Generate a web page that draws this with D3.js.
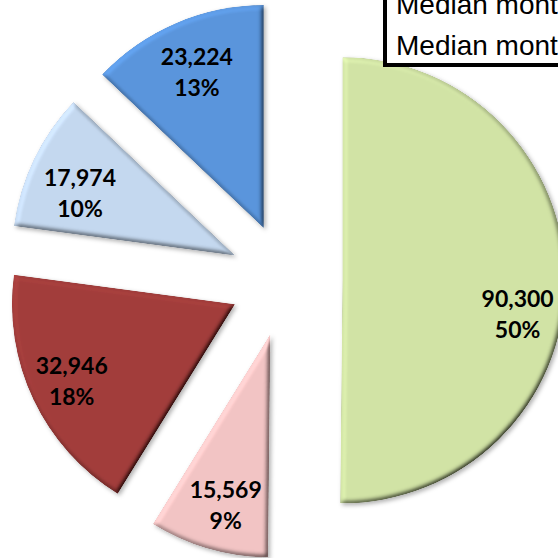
<!DOCTYPE html>
<html>
<head>
<meta charset="utf-8">
<script src="https://cdn.jsdelivr.net/npm/d3@7"></script>
<style>
  html, body { margin: 0; padding: 0; background: #fff; overflow: hidden; }
</style>
</head>
<body>
<div id="chart"></div>
<script>
// 数据
const sliceValues = [90300, 15569, 32946, 17974, 23224]
const sliceColors = ['#d1e3a5', '#f2c4c4', '#a23d3b', '#c4d8ef', '#5a95dc']
const legendLines = ['Median monthly income', 'Median monthly rent']

let width = 558
let height = 558
let radius = 223
let explode = 56.5
let cx = 286
let cy = 280

// 标签在原图里的微调 (角度偏移 度, 半径比例)
let labelAngle = [10.7, -1.5, 0, -3.6, 0]
let labelRadius = [0.80, 0.79, 0.81, 0.75, 0.76]

let svg = d3.select('#chart').append('svg').attr('width', width).attr('height', height)

// 斜面效果 + 阴影
let defs = svg.append('defs')
let f = defs.append('filter').attr('id', 'bevel').attr('x', '-10%').attr('y', '-10%').attr('width', '120%').attr('height', '120%')
f.append('feGaussianBlur').attr('in', 'SourceAlpha').attr('stdDeviation', 2.5).attr('result', 'blur')
f.append('feDiffuseLighting').attr('in', 'blur').attr('surfaceScale', 4).attr('diffuseConstant', 1)
  .attr('lighting-color', '#fff').attr('result', 'diff')
  .append('feDistantLight').attr('azimuth', 225).attr('elevation', 55)
f.append('feComposite').attr('in', 'SourceGraphic').attr('in2', 'diff').attr('operator', 'arithmetic')
  .attr('k1', 1.22).attr('k2', 0).attr('k3', 0).attr('k4', 0).attr('result', 'lit')
f.append('feComposite').attr('in', 'lit').attr('in2', 'SourceAlpha').attr('operator', 'in').attr('result', 'litIn')
f.append('feGaussianBlur').attr('in', 'SourceAlpha').attr('stdDeviation', 2).attr('result', 'sb')
f.append('feOffset').attr('in', 'sb').attr('dx', 2).attr('dy', 2).attr('result', 'so')
f.append('feFlood').attr('flood-color', '#000').attr('flood-opacity', 0.3)
f.append('feComposite').attr('in2', 'so').attr('operator', 'in').attr('result', 'shadow')
let merge = f.append('feMerge')
merge.append('feMergeNode').attr('in', 'shadow')
merge.append('feMergeNode').attr('in', 'litIn')

let total = d3.sum(sliceValues)
let pie = d3.pie().sort(null).startAngle(0).endAngle(2 * Math.PI)
let arc = d3.arc().innerRadius(0).outerRadius(radius)
let arcs = pie(sliceValues)

let fmtNum = d3.format(',')
let fmtPct = d3.format('.0%')

let g = svg.append('g').attr('transform', 'translate(' + cx + ',' + cy + ')')

let slices = g.selectAll('g.slice').data(arcs).enter().append('g').attr('class', 'slice')
  .attr('transform', d => {
    let mid = (d.startAngle + d.endAngle) / 2
    return 'translate(' + (Math.sin(mid) * explode) + ',' + (-Math.cos(mid) * explode) + ')'
  })

slices.append('path')
  .attr('d', arc)
  .attr('fill', (d, i) => sliceColors[i])
  .attr('filter', 'url(#bevel)')

// 标签
slices.each(function (d, i) {
  let mid = (d.startAngle + d.endAngle) / 2
  let a = mid + labelAngle[i] * Math.PI / 180
  let lr = radius * labelRadius[i]
  let x = Math.sin(a) * lr
  let y = -Math.cos(a) * lr
  let t = d3.select(this).append('text')
    .attr('text-anchor', 'middle')
    .style('font-family', 'Lato, "Open Sans", sans-serif')
    .style('font-weight', 'bold')
    .style('font-size', '23px')
    .attr('fill', '#000')
  t.append('tspan').attr('x', x).attr('y', y - 7.2).text(fmtNum(d.data))
  t.append('tspan').attr('x', x).attr('y', y + 23.8).text(fmtPct(d.data / total))
})

// 图例框
let legend = svg.append('g').attr('class', 'legend')
legend.append('rect')
  .attr('x', 385).attr('y', -20).attr('width', 220).attr('height', 85)
  .attr('fill', '#fff').attr('stroke', '#000').attr('stroke-width', 4)
legendLines.forEach((txt, i) => {
  legend.append('text').text(txt)
    .attr('x', 396).attr('y', 14 + i * 41)
    .style('font-family', '"Liberation Sans", Arial, sans-serif')
    .style('font-size', '28px')
    .attr('fill', '#000')
})
</script>
</body>
</html>
